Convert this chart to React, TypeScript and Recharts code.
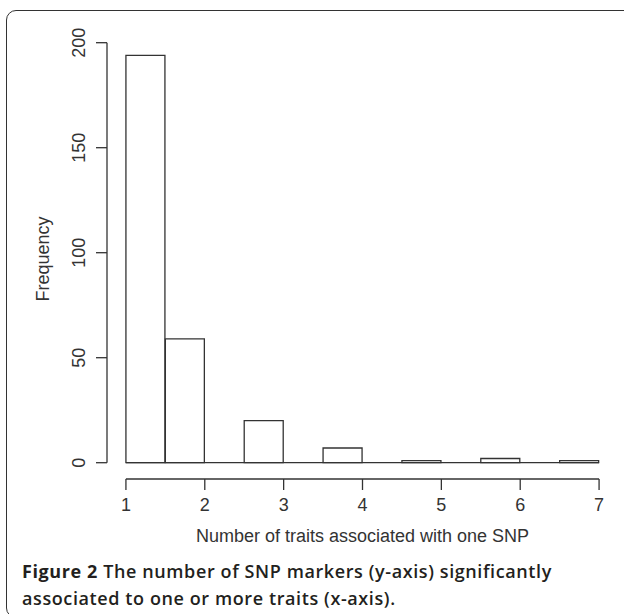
import React from 'react';
import {
  BarChart,
  Bar,
  XAxis,
  YAxis,
  ReferenceLine
} from 'recharts';

// histogram bins (width 0.5) and their counts
const binStarts = [1, 1.5, 2, 2.5, 3, 3.5, 4, 4.5, 5, 5.5, 6, 6.5];
const counts = [194, 59, 0, 20, 0, 7, 0, 1, 0, 2, 0, 1];
const xTicks = [1, 2, 3, 4, 5, 6, 7];
const yTicks = [0, 50, 100, 150, 200];
const binWidth = 0.5;

const data = binStarts.map((start, i) => ({
  mid: start + binWidth / 2,
  count: counts[i]
}));

// R-style 4% axis expansion
const xMin = xTicks[0];
const xMax = xTicks[xTicks.length - 1];
const xPad = (xMax - xMin) * 0.04;
const yMax = Math.max(...counts);
const yPad = yMax * 0.04;
const xDomain = [xMin - xPad, xMax + xPad];
const yDomain = [-yPad, yMax + yPad];
const yTop = yTicks[yTicks.length - 1];

const INK = '#333';
const FONT = '"Liberation Sans", Arial, sans-serif';

function YTick({ x, y, payload }: any) {
  const cx = x - 15;
  return (
    <text
      x={cx}
      y={y}
      transform={`rotate(-90 ${cx} ${y})`}
      textAnchor="middle"
      dominantBaseline="central"
      fontSize={18}
      fontFamily={FONT}
      fill={INK}
    >
      {payload.value}
    </text>
  );
}

function YTitle({ viewBox }: any) {
  const cx = viewBox.x + 43;
  const cy = viewBox.y + viewBox.height / 2;
  return (
    <text
      x={cx}
      y={cy}
      transform={`rotate(-90 ${cx} ${cy})`}
      textAnchor="middle"
      dominantBaseline="central"
      fontSize={18}
      fontFamily={FONT}
      fill={INK}
    >
      Frequency
    </text>
  );
}

export default function App() {
  return (
    <div
      style={{
        position: 'fixed',
        left: 0,
        top: 0,
        width: 624,
        height: 614,
        overflow: 'hidden',
        background: '#fff'
      }}
    >
      <div
        style={{
          position: 'absolute',
          left: 6,
          top: 10,
          width: 640,
          height: 606,
          border: `1.6px solid ${INK}`,
          borderRadius: 10
        }}
      />
      <div style={{ position: 'absolute', left: 0, top: 0 }}>
        <BarChart
          width={624}
          height={550}
          data={data}
          margin={{ top: 39, right: 6, bottom: 0, left: 0 }}
          barCategoryGap={0}
          barGap={0}
        >
          <XAxis
            dataKey="mid"
            type="number"
            domain={xDomain}
            allowDataOverflow
            ticks={xTicks}
            interval={0}
            axisLine={false}
            tickLine={{ stroke: INK, strokeWidth: 1.3 }}
            tickSize={11}
            tickMargin={8}
            height={71}
            tick={{ fill: INK, fontSize: 18, fontFamily: FONT }}
            label={{
              value: 'Number of traits associated with one SNP',
              position: 'insideBottom',
              offset: 8,
              fill: INK,
              fontSize: 18,
              fontFamily: FONT
            }}
          />
          <YAxis
            type="number"
            domain={yDomain}
            allowDataOverflow
            ticks={yTicks}
            interval={0}
            width={107}
            axisLine={false}
            tickLine={{ stroke: INK, strokeWidth: 1.3 }}
            tickSize={11}
            tick={<YTick />}
            label={<YTitle />}
          />
          {/* x axis line, offset below the plot like R */}
          <ReferenceLine
            segment={[{ x: xMin, y: -yPad }, { x: xMax, y: -yPad }]}
            stroke={INK}
            strokeWidth={1.3}
            ifOverflow="visible"
          />
          {/* y axis line from 0 to the last tick */}
          <ReferenceLine
            segment={[{ x: xDomain[0], y: 0 }, { x: xDomain[0], y: yTop }]}
            stroke={INK}
            strokeWidth={1.3}
            ifOverflow="visible"
          />
          {/* baseline under the empty bins */}
          <ReferenceLine
            segment={[{ x: xMin, y: 0 }, { x: xMax, y: 0 }]}
            stroke={INK}
            strokeWidth={1.3}
            ifOverflow="visible"
          />
          <Bar
            dataKey="count"
            fill="#fff"
            stroke={INK}
            strokeWidth={1.3}
            isAnimationActive={false}
          />
        </BarChart>
      </div>
      <div
        style={{
          position: 'absolute',
          left: 22,
          top: 558,
          width: 610,
          fontFamily: '"Open Sans", "Noto Sans", sans-serif',
          fontSize: 18,
          letterSpacing: 0.6,
          lineHeight: '26.6px',
          fontWeight: 600,
          color: '#231f20',
          whiteSpace: 'nowrap'
        }}
      >
        <span style={{ fontWeight: 700 }}>Figure 2</span> The number of SNP markers (y-axis) significantly
        <br />
        associated to one or more traits (x-axis).
      </div>
    </div>
  );
}
